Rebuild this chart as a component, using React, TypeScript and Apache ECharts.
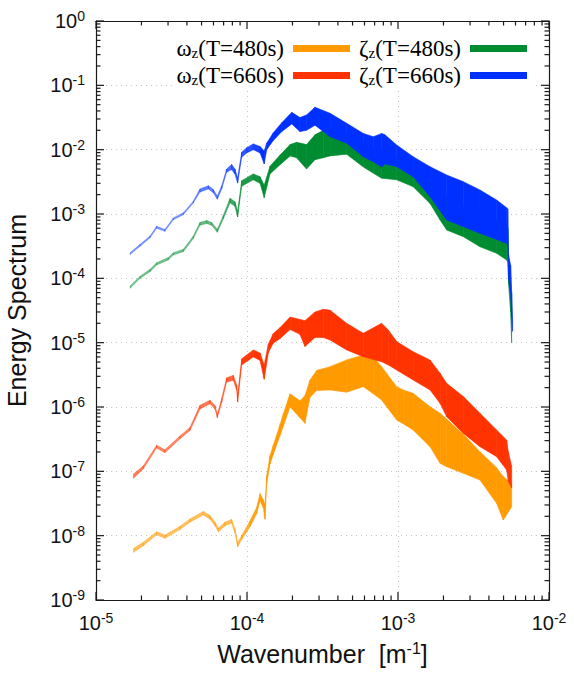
import React, { useEffect, useRef } from 'react';
import * as echarts from 'echarts';

const SANS = '"Liberation Sans", Arial, Helvetica, sans-serif';
const SERIF = '"Liberation Serif", "Times New Roman", serif';

const seriesNames = ['ωz(T=480s)', 'ωz(T=660s)', 'ζz(T=480s)', 'ζz(T=660s)'];
const seriesColors = ['#ff9a00', '#ff3300', '#008c30', '#0030ff'];

const xMin = 1e-5;
const xMax = 1e-2;
const yMin = 1e-9;
const yMax = 1;

// tick layout (decades and 2..9 minor mantissas)
const xDecades = [1e-5, 1e-4, 1e-3, 1e-2];
const yDecades = [1e-9, 1e-8, 1e-7, 1e-6, 1e-5, 1e-4, 1e-3, 1e-2, 1e-1, 1];
const minorMantissas = [2, 3, 4, 5, 6, 7, 8, 9];

// ω_z (T=480s)
const omega480K = [1.77e-5, 2.06e-5, 2.52e-5, 2.86e-5, 3.6e-5, 4.19e-5, 5.14e-5, 5.69e-5, 6.14e-5, 6.46e-5, 7.15e-5, 7.91e-5, 8.32e-5, 8.67e-5, 9.22e-5, 1.047e-4, 1.159e-4, 1.22e-4, 1.283e-4, 1.316e-4, 1.35e-4, 1.42e-4, 1.49e-4, 1.654e-4, 1.74e-4, 1.926e-4, 2.244e-4, 2.42e-4, 2.61e-4, 2.89e-4, 3.55e-4, 4.57e-4, 5.89e-4, 6.87e-4, 7.79e-4, 9.8e-4, 1.083e-3, 1.26e-3, 1.63e-3, 1.9e-3, 2.1e-3, 2.71e-3, 3.49e-3, 4.5e-3, 4.98e-3, 5.66e-3];
const omega480Lo = [5.5e-9, 7.0e-9, 1.03e-8, 9.1e-9, 1.25e-8, 1.62e-8, 2.1e-8, 1.8e-8, 1.42e-8, 1.15e-8, 1.42e-8, 1.57e-8, 1.1e-8, 6.7e-9, 8.7e-9, 1.38e-8, 2.2e-8, 3.5e-8, 2.7e-8, 1.8e-8, 6.3e-8, 1.3e-7, 1.8e-7, 3.6e-7, 5.0e-7, 1.0e-6, 6.8e-7, 5.57e-7, 1.4e-6, 1.8e-6, 1.84e-6, 1.7e-6, 2.07e-6, 1.6e-6, 1.285e-6, 6.28e-7, 5.5e-7, 4.38e-7, 2.42e-7, 1.33e-7, 1.18e-7, 9.3e-8, 7.33e-8, 3.18e-8, 1.75e-8, 2.82e-8];
const omega480Hi = [6.3e-9, 7.9e-9, 1.15e-8, 1.02e-8, 1.4e-8, 1.82e-8, 2.38e-8, 2.05e-8, 1.62e-8, 1.31e-8, 1.62e-8, 1.79e-8, 1.27e-8, 7.8e-9, 1.0e-8, 1.7e-8, 2.75e-8, 4.5e-8, 3.6e-8, 3.0e-8, 8.5e-8, 1.75e-7, 2.5e-7, 5.3e-7, 7.8e-7, 1.6e-6, 1.25e-6, 1.5e-6, 2.6e-6, 3.7e-6, 4.24e-6, 5.4e-6, 6.43e-6, 6.05e-6, 4.24e-6, 2.07e-6, 1.84e-6, 1.63e-6, 1.01e-6, 8.0e-7, 6.5e-7, 3.76e-7, 2.02e-7, 1.14e-7, 8.26e-8, 6.5e-8];

// ω_z (T=660s)
const omega660K = [1.77e-5, 2.06e-5, 2.52e-5, 2.86e-5, 3.6e-5, 4.19e-5, 4.88e-5, 5.69e-5, 6.14e-5, 6.36e-5, 6.8e-5, 7.33e-5, 8.12e-5, 8.54e-5, 8.67e-5, 9.22e-5, 1.1e-4, 1.22e-4, 1.3e-4, 1.385e-4, 1.49e-4, 1.65e-4, 1.93e-4, 2.24e-4, 2.42e-4, 2.82e-4, 3.2e-4, 3.55e-4, 4.57e-4, 5.89e-4, 7.79e-4, 8.63e-4, 9.8e-4, 1.26e-3, 1.63e-3, 1.9e-3, 2.1e-3, 2.71e-3, 3.49e-3, 4.5e-3, 5.24e-3, 5.38e-3, 5.66e-3];
const omega660Lo = [7.8e-8, 1.1e-7, 2.3e-7, 1.95e-7, 3.2e-7, 4.3e-7, 9.3e-7, 1.12e-6, 9.3e-7, 6.8e-7, 1.18e-6, 2.45e-6, 2.6e-6, 1.85e-6, 1.2e-6, 4.5e-6, 6.0e-6, 5.3e-6, 2.7e-6, 7.0e-6, 9.8e-6, 1.15e-5, 1.6e-5, 1.35e-5, 8.7e-6, 1.2e-5, 1.2e-5, 1.1e-5, 7.7e-6, 6.05e-6, 5.06e-6, 4.5e-6, 3.76e-6, 2.63e-6, 1.84e-6, 1.14e-6, 7.07e-7, 3.89e-7, 2.42e-7, 1.69e-7, 1.05e-7, 7.0e-8, 5.5e-8];
const omega660Hi = [9.0e-8, 1.22e-7, 2.55e-7, 2.16e-7, 3.55e-7, 4.8e-7, 1.06e-6, 1.27e-6, 1.05e-6, 7.8e-7, 1.35e-6, 2.85e-6, 3.1e-6, 2.2e-6, 1.5e-6, 5.6e-6, 7.7e-6, 6.9e-6, 4.5e-6, 9.5e-6, 1.38e-5, 1.7e-5, 2.5e-5, 2.3e-5, 2.2e-5, 3.0e-5, 3.3e-5, 3.2e-5, 2.0e-5, 1.4e-5, 2.0e-5, 1.57e-5, 1.04e-5, 7.24e-6, 5.37e-6, 3.34e-6, 2.33e-6, 1.45e-6, 7.97e-7, 4.38e-7, 3.07e-7, 2.0e-7, 1.2e-7];

// ζ_z (T=480s)
const zeta480K = [1.68e-5, 1.96e-5, 2.28e-5, 2.52e-5, 3.01e-5, 3.25e-5, 3.79e-5, 4.41e-5, 4.88e-5, 5.41e-5, 5.83e-5, 6.36e-5, 6.97e-5, 7.72e-5, 8.32e-5, 8.67e-5, 9.22e-5, 1.1e-4, 1.22e-4, 1.3e-4, 1.42e-4, 1.65e-4, 1.93e-4, 2.13e-4, 2.48e-4, 2.82e-4, 3.2e-4, 3.55e-4, 4.57e-4, 5.89e-4, 6.87e-4, 7.79e-4, 9.8e-4, 1.26e-3, 1.63e-3, 1.9e-3, 2.1e-3, 2.71e-3, 3.49e-3, 4.5e-3, 5.24e-3, 5.33e-3, 5.4e-3, 5.57e-3, 5.66e-3];
const zeta480Lo = [7.0e-5, 1.0e-4, 1.27e-4, 1.61e-4, 1.93e-4, 2.3e-4, 2.6e-4, 4.15e-4, 6.7e-4, 7.1e-4, 6.7e-4, 5.2e-4, 8.4e-4, 1.5e-3, 1.32e-3, 9.0e-4, 2.7e-3, 3.4e-3, 3.0e-3, 1.8e-3, 4.2e-3, 5.8e-3, 8.0e-3, 7.5e-3, 5.0e-3, 7.0e-3, 7.5e-3, 8.0e-3, 8.5e-3, 5.4e-3, 4.3e-3, 3.6e-3, 3.4e-3, 2.66e-3, 1.46e-3, 8.06e-4, 5.64e-4, 4.44e-4, 3.1e-4, 2.45e-4, 1.93e-4, 1.8e-4, 8.0e-5, 3.0e-5, 1.0e-5];
const zeta480Hi = [7.6e-5, 1.08e-4, 1.38e-4, 1.75e-4, 2.1e-4, 2.5e-4, 2.82e-4, 4.55e-4, 7.4e-4, 7.9e-4, 7.4e-4, 5.8e-4, 9.5e-4, 1.75e-3, 1.55e-3, 1.1e-3, 3.3e-3, 4.2e-3, 3.8e-3, 2.8e-3, 5.5e-3, 8.2e-3, 1.2e-2, 1.3e-2, 1.2e-2, 1.7e-2, 2.0e-2, 2.1e-2, 1.8e-2, 1.3e-2, 1.1e-2, 1.0e-2, 8.0e-3, 6.0e-3, 3.5e-3, 2.5e-3, 1.8e-3, 1.3e-3, 1.0e-3, 8.0e-4, 7.0e-4, 6.0e-4, 1.8e-4, 8.0e-5, 2.5e-5];

// ζ_z (T=660s)
const zeta660K = [1.68e-5, 1.96e-5, 2.28e-5, 2.52e-5, 2.86e-5, 3.25e-5, 3.79e-5, 4.41e-5, 4.88e-5, 5.55e-5, 5.98e-5, 6.36e-5, 6.8e-5, 7.33e-5, 7.91e-5, 8.32e-5, 8.67e-5, 9.22e-5, 9.95e-5, 1.1e-4, 1.22e-4, 1.3e-4, 1.35e-4, 1.49e-4, 1.7e-4, 1.98e-4, 2.24e-4, 2.48e-4, 2.82e-4, 3.55e-4, 4.57e-4, 5.89e-4, 6.87e-4, 7.79e-4, 8.2e-4, 9.8e-4, 1.26e-3, 1.63e-3, 2.1e-3, 2.71e-3, 3.49e-3, 4.5e-3, 5.24e-3, 5.33e-3, 5.4e-3, 5.57e-3, 5.66e-3, 5.74e-3];
const zeta660Lo = [2.34e-4, 3.16e-4, 4.27e-4, 6.03e-4, 5.37e-4, 8.13e-4, 9.77e-4, 1.48e-3, 2.19e-3, 2.45e-3, 2.14e-3, 1.7e-3, 2.45e-3, 4.47e-3, 4.9e-3, 4.17e-3, 3.02e-3, 7.59e-3, 8.91e-3, 1.0e-2, 8.91e-3, 6.03e-3, 1.0e-2, 1.38e-2, 1.91e-2, 2.51e-2, 1.91e-2, 2.0e-2, 2.4e-2, 1.59e-2, 1.26e-2, 7.78e-3, 6.5e-3, 5.4e-3, 6.0e-3, 5.44e-3, 3.8e-3, 1.86e-3, 8.06e-4, 6.35e-4, 5.0e-4, 4.0e-4, 3.5e-4, 3.2e-4, 1.0e-4, 6.0e-5, 2.5e-5, 1.5e-5];
const zeta660Hi = [2.5e-4, 3.38e-4, 4.56e-4, 6.45e-4, 5.75e-4, 8.7e-4, 1.05e-3, 1.58e-3, 2.45e-3, 2.75e-3, 2.4e-3, 1.9e-3, 2.75e-3, 5.0e-3, 5.89e-3, 5.01e-3, 3.63e-3, 9.12e-3, 1.07e-2, 1.23e-2, 1.12e-2, 9.55e-3, 1.26e-2, 1.82e-2, 2.63e-2, 3.8e-2, 3.16e-2, 3.47e-2, 4.57e-2, 3.67e-2, 2.57e-2, 1.79e-2, 1.59e-2, 1.79e-2, 1.7e-2, 1.18e-2, 7.78e-3, 5.44e-3, 4.04e-3, 3.18e-3, 2.36e-3, 1.65e-3, 1.25e-3, 1.2e-3, 2.3e-4, 1.6e-4, 6.0e-5, 2.2e-5];

function makeBand(name: string, color: string, k: number[], lo: number[], hi: number[]) {
  return {
    type: 'custom',
    name,
    coordinateSystem: 'cartesian2d',
    xAxisIndex: 0,
    yAxisIndex: 0,
    clip: true,
    z: 2,
    itemStyle: { color },
    encode: { x: 0, y: [1, 2] },
    data: k.map((v, i) => [v, lo[i], hi[i]]),
    renderItem: (params: any, api: any) => {
      const i = params.dataIndex;
      if (i >= k.length - 1) return null;
      const a = api.coord([k[i], hi[i]]);
      const b = api.coord([k[i + 1], hi[i + 1]]);
      const c = api.coord([k[i + 1], lo[i + 1]]);
      const d = api.coord([k[i], lo[i]]);
      const h = (d[1] - a[1] + (c[1] - b[1])) / 2;
      const op = Math.min(1, 0.3 + h * 0.1);
      return {
        type: 'polygon',
        shape: { points: [a, b, c, d] },
        style: { fill: color, stroke: color, lineWidth: 0.6, opacity: op },
      };
    },
  };
}

const AXIS_COLOR = '#1a1a1a';

// each tick: [value, isMajor, side]  side: 0 = bottom/left, 1 = top/right
function tickData(decades: number[], max: number) {
  const out: number[][] = [];
  [0, 1].forEach((side) => {
    decades.forEach((d) => {
      out.push([d, 1, side]);
      if (d < max) minorMantissas.forEach((m) => out.push([m * d, 0, side]));
    });
  });
  return out;
}

function tickSeries(dir: 'x' | 'y') {
  const ticks = dir === 'x' ? tickData(xDecades, xMax) : tickData(yDecades, yMax);
  return {
    type: 'custom',
    name: dir + 'Ticks',
    coordinateSystem: 'cartesian2d',
    xAxisIndex: 0,
    yAxisIndex: 0,
    clip: false,
    silent: true,
    z: 10,
    itemStyle: { color: AXIS_COLOR },
    encode: { x: 0, y: 1 },
    data: ticks.map((t) => (dir === 'x' ? [t[0], 1e-4] : [1e-4, t[0]])),
    renderItem: (params: any, api: any) => {
      const t = ticks[params.dataIndex];
      const len = t[1] ? 8 : 4.5;
      const w = 1.2;
      if (dir === 'x') {
        const p = api.coord([t[0], t[2] ? yMax : yMin]);
        const y0 = t[2] ? p[1] : p[1] - len;
        return {
          type: 'rect',
          shape: { x: p[0] - w / 2, y: y0, width: w, height: len },
          style: { fill: AXIS_COLOR },
        };
      }
      const p = api.coord([t[2] ? xMax : xMin, t[0]]);
      const x0 = t[2] ? p[0] - len : p[0];
      return {
        type: 'rect',
        shape: { x: x0, y: p[1] - w / 2, width: len, height: w },
        style: { fill: AXIS_COLOR },
      };
    },
  };
}

const supLabel = (v: number) => `{b|10}{s|${Math.round(Math.log10(v))}}`;
const labelRich = {
  b: { fontSize: 20, fontFamily: SANS, color: '#111', lineHeight: 24 },
  s: { fontSize: 14, fontFamily: SANS, color: '#111', lineHeight: 14, padding: [0, 0, 10, 0] },
};

const legendRich = {
  g: { fontSize: 23, fontFamily: SERIF, color: '#000', lineHeight: 26 },
  z: { fontSize: 15, fontFamily: SERIF, color: '#000', lineHeight: 15, padding: [8, 0, 0, 0] },
  e: { fontSize: 23, fontFamily: SERIF, color: '#000', lineHeight: 26, padding: [0, 4, 0, 0] },
};
const legendFormatter = (name: string) => `{g|${name.charAt(0)}}{z|z}{e|${name.slice(2)}}`;

export default function App() {
  const ref = useRef<HTMLDivElement>(null);
  useEffect(() => {
    if (!ref.current) return;
    const chart = echarts.init(ref.current, undefined, { renderer: 'svg' });
    const commonLegend = {
      orient: 'horizontal',
      align: 'right',
      right: 38,
      icon: 'rect',
      itemWidth: 57,
      itemHeight: 7,
      itemGap: 9,
      backgroundColor: '#fff',
      selectedMode: false,
      formatter: legendFormatter,
      textStyle: { rich: legendRich },
    };
    const axisBase = {
      type: 'log',
      logBase: 10,
      axisLine: { show: true, lineStyle: { color: AXIS_COLOR, width: 1.2 } },
      axisTick: { show: false },
      minorTick: { show: false },
    };
    chart.setOption({
      animation: false,
      backgroundColor: '#fff',
      grid: { left: 96, right: 25, top: 21, bottom: 75, containLabel: false, outerBoundsMode: 'none' },
      legend: [
        { ...commonLegend, data: [seriesNames[0], seriesNames[2]], top: 22, padding: [15, 9, 0, 3] },
        { ...commonLegend, data: [seriesNames[1], seriesNames[3]], top: 63, padding: [1, 9, 0, 3] },
      ],
      xAxis: [
        {
          ...axisBase,
          min: xMin,
          max: xMax,
          splitNumber: 3,
          position: 'bottom',
          name: '{t|Wavenumber  [m}{s|-1}{t|]}',
          nameLocation: 'middle',
          nameGap: 39,
          nameTextStyle: {
            rich: {
              t: { fontSize: 25, fontFamily: SANS, color: '#111', lineHeight: 30 },
              s: { fontSize: 16, fontFamily: SANS, color: '#111', lineHeight: 16, padding: [0, 0, 12, 0] },
            },
          },
          axisLabel: { formatter: supLabel, margin: 11, rich: labelRich },
          splitLine: { show: true, lineStyle: { color: '#c4c4c4', type: [1, 4], width: 1 } },
        },
        {
          ...axisBase,
          min: xMin,
          max: xMax,
          splitNumber: 3,
          position: 'top',
          z: 10,
          axisLabel: { show: false },
          splitLine: { show: false },
        },
      ],
      yAxis: [
        {
          ...axisBase,
          min: yMin,
          max: yMax,
          splitNumber: 9,
          position: 'left',
          name: 'Energy Spectrum',
          nameLocation: 'middle',
          nameGap: 67,
          nameTextStyle: { fontSize: 25, fontFamily: SANS, color: '#111' },
          axisLabel: { formatter: supLabel, margin: 11, rich: labelRich },
          splitLine: { show: true, lineStyle: { color: '#c4c4c4', type: [1, 4], width: 1 } },
        },
        {
          ...axisBase,
          min: yMin,
          max: yMax,
          splitNumber: 9,
          position: 'right',
          z: 10,
          axisLabel: { show: false },
          splitLine: { show: false },
        },
      ],
      series: [
        makeBand(seriesNames[0], seriesColors[0], omega480K, omega480Lo, omega480Hi),
        makeBand(seriesNames[1], seriesColors[1], omega660K, omega660Lo, omega660Hi),
        makeBand(seriesNames[2], seriesColors[2], zeta480K, zeta480Lo, zeta480Hi),
        makeBand(seriesNames[3], seriesColors[3], zeta660K, zeta660Lo, zeta660Hi),
        tickSeries('x'),
        tickSeries('y'),
      ],
    } as any);
    return () => chart.dispose();
  }, []);
  return <div ref={ref} style={{ position: 'absolute', left: 0, top: 0, width: 574, height: 675 }} />;
}
